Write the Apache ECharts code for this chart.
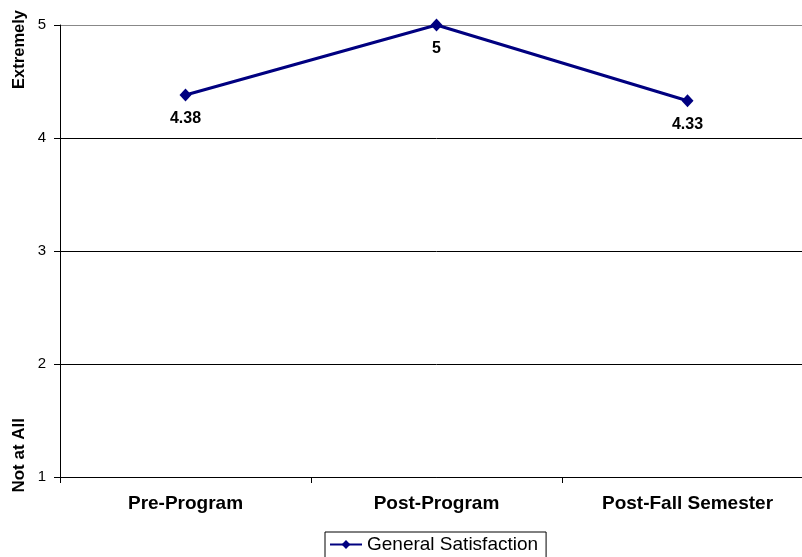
<!DOCTYPE html>
<html>
<head>
<meta charset="utf-8">
<script src="https://cdn.jsdelivr.net/npm/echarts@6/dist/echarts.min.js"></script>
<style>
  html, body { margin: 0; padding: 0; background: #fff; overflow: hidden; }
  #chart { width: 813px; height: 557px; }
</style>
</head>
<body>
<div id="chart"></div>
<script>
// Satisfaction ratings across the three survey points
const categories = ['Pre-Program', 'Post-Program', 'Post-Fall Semester'];
const satisfaction = [4.38, 5, 4.33];
const seriesName = 'General Satisfaction';
const yTicks = [1, 2, 3, 4, 5];

const FONT = '"Liberation Sans", Arial, sans-serif';

const chart = echarts.init(document.getElementById('chart'), null, { renderer: 'canvas' });

chart.setOption({
  animation: false,
  backgroundColor: '#ffffff',
  grid: { left: 60, top: 25, right: 0, height: 452, containLabel: false },
  xAxis: {
    type: 'category',
    data: categories,
    boundaryGap: true,
    axisLine: { lineStyle: { color: '#000', width: 1 } },
    axisTick: { show: true, alignWithLabel: false, length: 6, lineStyle: { color: '#000' } },
    axisLabel: { color: '#000', fontFamily: FONT, fontSize: 19, fontWeight: 'bold', margin: 17 },
    splitLine: { show: false }
  },
  yAxis: {
    type: 'value',
    min: yTicks[0],
    max: yTicks[yTicks.length - 1],
    interval: 1,
    axisLine: { show: true, lineStyle: { color: '#000', width: 1 } },
    axisTick: { show: true, length: 6, lineStyle: { color: '#000' } },
    axisLabel: { color: '#000', fontFamily: FONT, fontSize: 15, margin: 14, padding: [2, 0, 0, 0] },
    splitLine: {
      show: true,
      lineStyle: { color: ['#000', '#000', '#000', '#000', '#888'], width: 1 }
    }
  },
  legend: {
    data: [seriesName],
    left: 325,
    top: 532,
    itemWidth: 32,
    itemHeight: 11,
    itemGap: 4,
    padding: [3, 8, 6, 4],
    borderColor: '#000',
    borderWidth: 1,
    textStyle: { color: '#000', fontFamily: FONT, fontSize: 19 }
  },
  graphic: [
    {
      type: 'text',
      left: 11,
      top: 10,
      rotation: Math.PI / 2,
      style: { text: 'Extremely', font: 'bold 16.5px ' + FONT, fill: '#000' }
    },
    {
      type: 'text',
      left: 11,
      top: 418,
      rotation: Math.PI / 2,
      style: { text: 'Not at All', font: 'bold 17px ' + FONT, fill: '#000' }
    }
  ],
  series: [{
    name: seriesName,
    type: 'line',
    data: satisfaction,
    symbol: 'diamond',
    symbolSize: [12, 13],
    lineStyle: { color: '#000080', width: 3 },
    itemStyle: { color: '#000080' },
    label: {
      show: true,
      position: 'bottom',
      distance: 9,
      color: '#000',
      fontFamily: FONT,
      fontSize: 16,
      fontWeight: 'bold'
    }
  }]
});
</script>
</body>
</html>
